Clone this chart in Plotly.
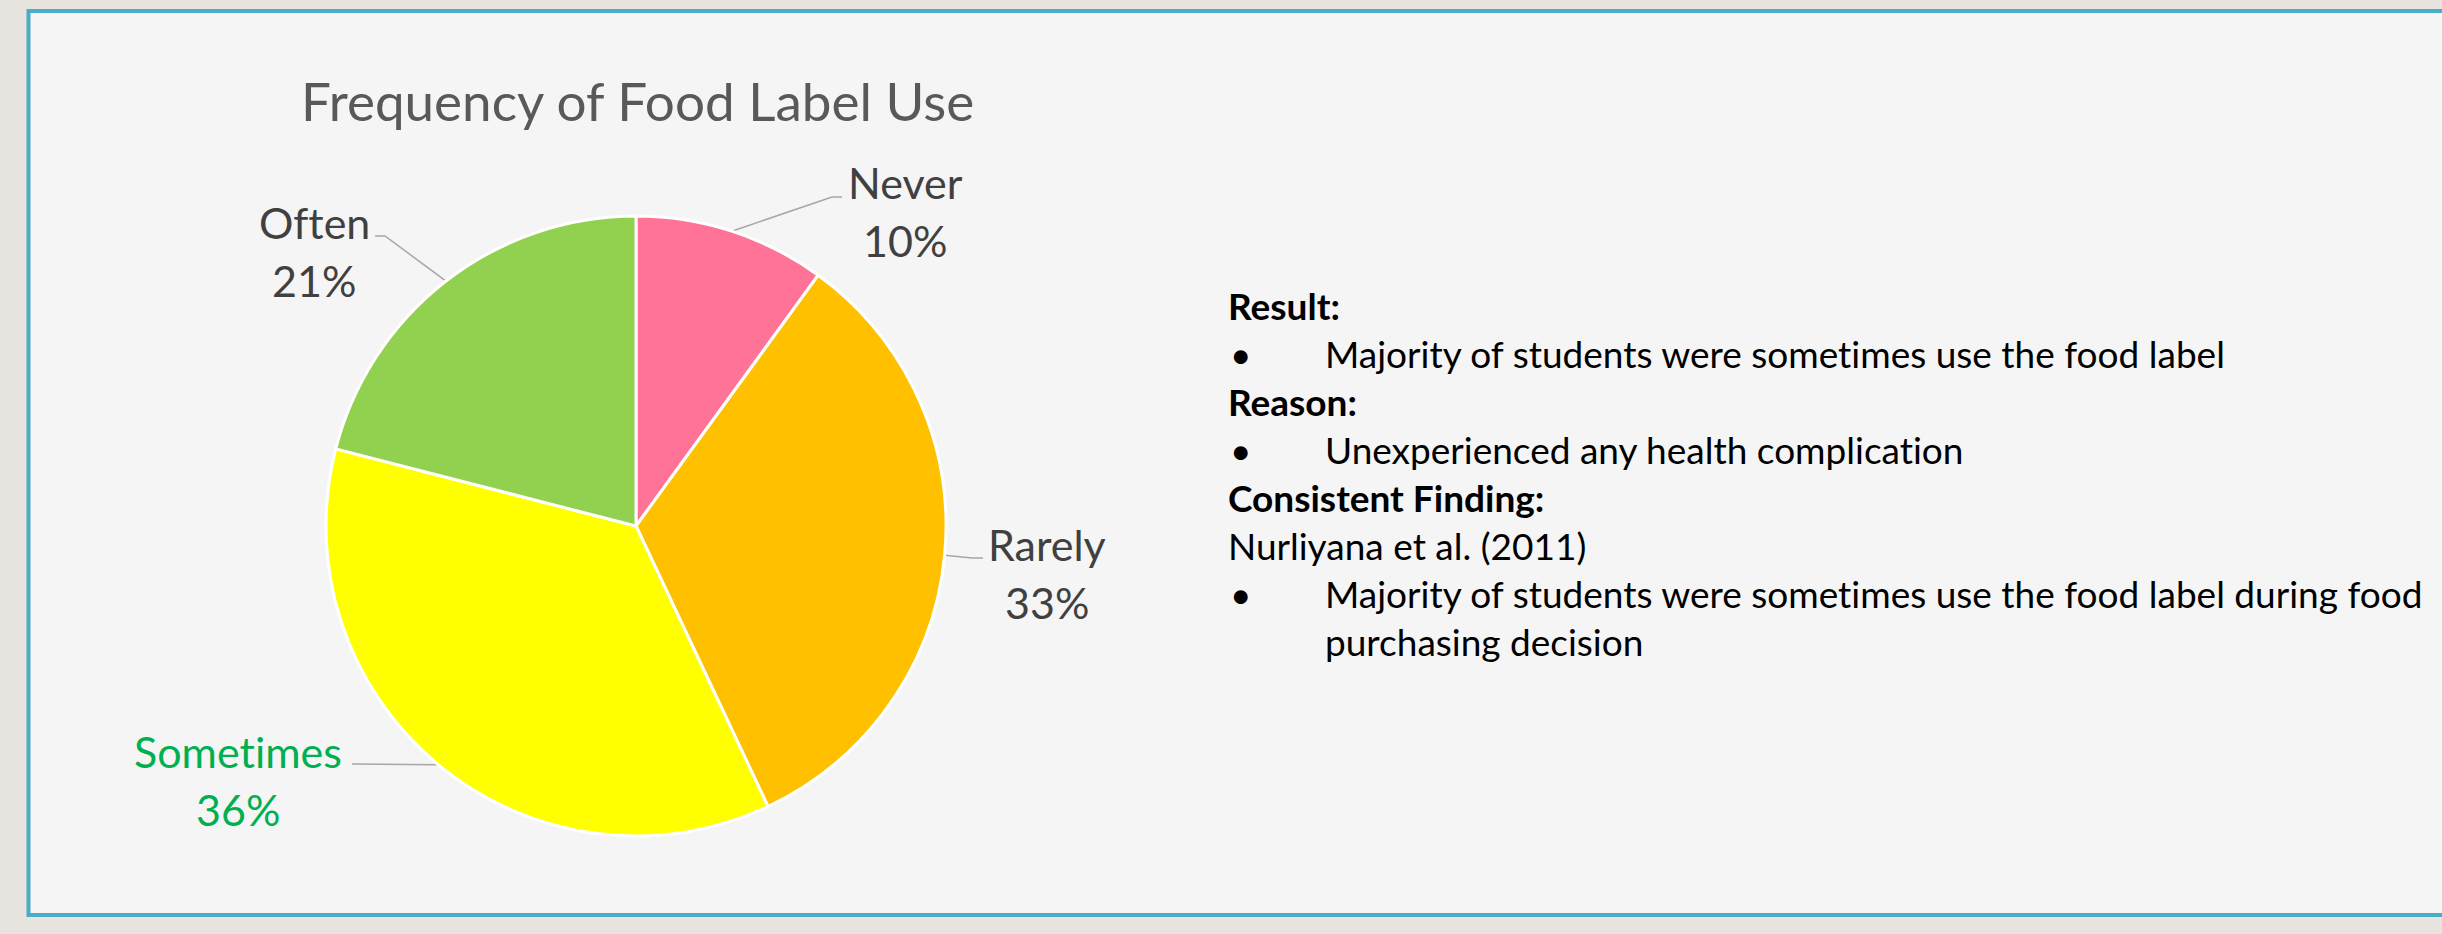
import plotly.graph_objects as go
import math

# ---- data ----
categories = ["Never", "Rarely", "Sometimes", "Often"]
values = [10, 33, 36, 21]
slice_colors = ["#FF7396", "#FFC000", "#FFFF00", "#92D050"]
label_colors = ["#404040", "#404040", "#00B050", "#404040"]

title_text = "Frequency of Food Label Use"

notes = [
    ("head", "Result:"),
    ("bullet", "Majority of students were sometimes use the food label"),
    ("head", "Reason:"),
    ("bullet", "Unexperienced any health complication"),
    ("head", "Consistent Finding:"),
    ("plain", "Nurliyana et al. (2011)"),
    ("bullet", "Majority of students were sometimes use the food label during food"),
    ("cont", "purchasing decision"),
]

# ---- layout constants (pixels) ----
W, H = 2442, 934
CX, CY, R = 636, 526, 310
FONT = "Lato"
NOLIG = "font-variant-ligatures:none;font-feature-settings:'liga' 0"


def nolig(s):
    return f"<span style=\"{NOLIG}\">{s}</span>"


# label anchor (text centre x, name middle y), elbow points for leader lines
label_pos = {
    "Never": dict(x=905, y=182, elbow=(832, 197), end=(842, 197)),
    "Rarely": dict(x=1047, y=544, elbow=(972, 558), end=(983, 558)),
    "Sometimes": dict(x=238, y=751, elbow=(352, 764), end=(352, 764)),
    "Often": dict(x=314, y=222, elbow=(385, 236), end=(375, 236)),
}

fig = go.Figure()

# pie
fig.add_trace(go.Pie(
    labels=categories, values=values, sort=False, direction="clockwise",
    rotation=0, textinfo="none", hoverinfo="label+percent",
    marker=dict(colors=slice_colors, line=dict(color="white", width=3)),
    domain=dict(x=[(CX - R) / W, (CX + R) / W], y=[1 - (CY + R) / H, 1 - (CY - R) / H]),
    showlegend=False,
))

total = sum(values)
cum = 0
annotations = []
for cat, v, lc in zip(categories, values, label_colors):
    mid = (cum + v / 2) / total * 2 * math.pi
    cum += v
    px = CX + R * math.sin(mid)
    py = CY - R * math.cos(mid)
    lp = label_pos[cat]
    xs = [px, lp["elbow"][0], lp["end"][0]]
    ys = [py, lp["elbow"][1], lp["end"][1]]
    fig.add_trace(go.Scatter(x=xs, y=ys, mode="lines", line=dict(color="#A6A6A6", width=1.5),
                             hoverinfo="skip", showlegend=False))
    pct = f"{v / total * 100:.0f}%"
    annotations.append(dict(x=lp["x"], y=lp["y"], xref="x", yref="y", text=nolig(cat), showarrow=False,
                            xanchor="center", yanchor="middle",
                            font=dict(family=FONT, size=43, color=lc)))
    annotations.append(dict(x=lp["x"], y=lp["y"] + 58, xref="x", yref="y", text=pct, showarrow=False,
                            xanchor="center", yanchor="middle",
                            font=dict(family=FONT, size=43, color=lc)))

# title
annotations.append(dict(x=637, y=100, xref="x", yref="y", text=title_text, showarrow=False,
                        xanchor="center", yanchor="middle",
                        font=dict(family=FONT, size=53, color="#595959")))

# notes text block
y0, dy = 305, 48
FS = 37
for i, (kind, txt) in enumerate(notes):
    y = y0 + i * dy
    if kind == "head":
        annotations.append(dict(x=1226, y=y, xref="x", yref="y", text=f"<b>{nolig(txt)}</b>", showarrow=False,
                                xanchor="left", yanchor="middle",
                                font=dict(family=FONT, size=FS, color="#000000")))
    elif kind == "plain":
        annotations.append(dict(x=1226, y=y, xref="x", yref="y", text=nolig(txt), showarrow=False,
                                xanchor="left", yanchor="middle",
                                font=dict(family=FONT, size=FS, color="#000000")))
    else:
        if kind == "bullet":
            annotations.append(dict(x=1228, y=y, xref="x", yref="y", text="•", showarrow=False,
                                    xanchor="left", yanchor="middle",
                                    font=dict(family=FONT, size=FS, color="#000000")))
        annotations.append(dict(x=1323, y=y, xref="x", yref="y", text=nolig(txt), showarrow=False,
                                xanchor="left", yanchor="middle",
                                font=dict(family=FONT, size=FS, color="#000000")))

fig.update_layout(
    width=W, height=H, margin=dict(l=0, r=0, t=0, b=0),
    paper_bgcolor="#E8E5E0", plot_bgcolor="rgba(0,0,0,0)",
    xaxis=dict(range=[0, W], visible=False, fixedrange=True),
    yaxis=dict(range=[H, 0], visible=False, fixedrange=True),
    shapes=[dict(type="rect", xref="x", yref="y", x0=28.5, x1=W + 20, y0=11, y1=915,
                 fillcolor="#F5F5F5", line=dict(color="#4BACC6", width=4), layer="below")],
    annotations=annotations,
)

fig.write_html("out.html")
